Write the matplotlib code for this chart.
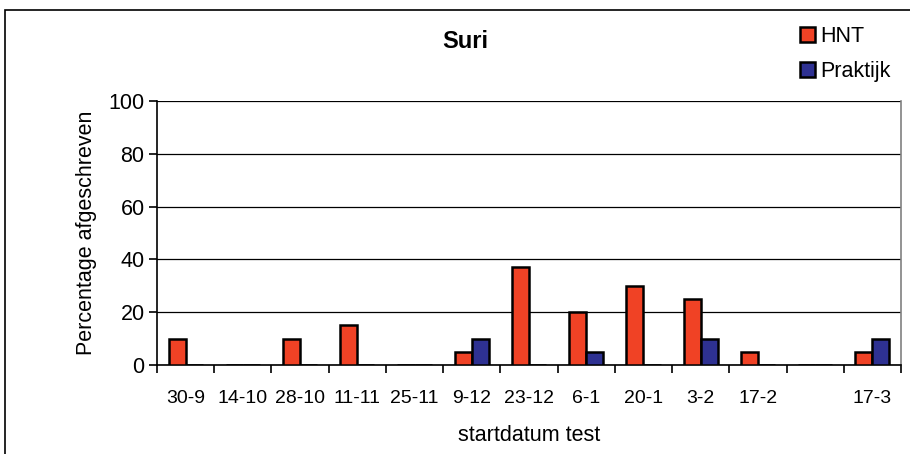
import matplotlib
matplotlib.use("Agg")
import matplotlib.pyplot as plt
import numpy as np
from matplotlib.patches import Rectangle

plt.rcParams['font.family'] = ['Liberation Sans', 'DejaVu Sans']

categories = ["30-9", "14-10", "28-10", "11-11", "25-11", "9-12", "23-12",
              "6-1", "20-1", "3-2", "17-2", "", "17-3"]
hnt = [10, 0, 10, 15, 0, 5, 37, 20, 30, 25, 5, 0, 5]
praktijk = [0, 0, 0, 0, 0, 10, 0, 5, 0, 10, 0, 0, 10]
series_names = ["HNT", "Praktijk"]
colors = ["#F04225", "#2E3192"]

fig = plt.figure(figsize=(9.1, 4.54), dpi=100)
fig.patch.set_facecolor("white")
# outer frame
fig.add_artist(Rectangle((5/910, -0.1), 1.2, 1 - 10/454 + 0.1, transform=fig.transFigure,
                         fill=False, edgecolor="black", linewidth=1.2))

ax = fig.add_axes([157/910, 1 - 365/454, (901 - 157)/910, (365 - 101)/454])
x = np.arange(len(categories))
w = 0.298
ax.bar(x - w/2, hnt, width=w, color=colors[0], edgecolor="black", linewidth=1.8,
       label=series_names[0], zorder=3)
ax.bar(x + w/2, praktijk, width=w, color=colors[1], edgecolor="black", linewidth=1.8,
       label=series_names[1], zorder=3)

ax.set_xlim(-0.5, len(categories) - 0.5)
ax.set_ylim(0, 100)
ax.set_yticks([0, 20, 40, 60, 80, 100])
ax.yaxis.grid(True, color="black", linewidth=0.9, zorder=0)
ax.set_xticks(x)
ax.set_xticklabels(categories, fontsize=14)
ax.set_xticks(np.arange(len(categories) + 1) - 0.5, minor=True)
ax.tick_params(axis="x", which="major", length=0, pad=18)
ax.tick_params(axis="x", which="minor", length=6, width=1.2, color="black")
ax.tick_params(axis="y", length=6, width=1.2, labelsize=15.5, pad=3)

ax.spines["top"].set_visible(False)
ax.spines["right"].set_color("#808080")
ax.spines["right"].set_linewidth(1.2)
ax.spines["left"].set_linewidth(1.2)
ax.spines["bottom"].set_linewidth(1.2)

ax.set_xlabel("startdatum test", fontsize=15.5, labelpad=13)
ax.set_ylabel("Percentage afgeschreven", fontsize=15.5, labelpad=8)

fig.text(465/910, 1 - 42/454, "Suri", fontsize=17, fontweight="bold", ha="center", va="center")

leg = fig.legend(loc="upper left", bbox_to_anchor=(800/910, 1 - 26/454), frameon=False,
                 fontsize=15.5, handlelength=0.7, handleheight=0.7, handletextpad=0.25,
                 labelspacing=0.65, borderaxespad=0, borderpad=0)
for h in leg.legend_handles:
    h.set_linewidth(1.8)

fig.savefig("out.png", dpi=100)
